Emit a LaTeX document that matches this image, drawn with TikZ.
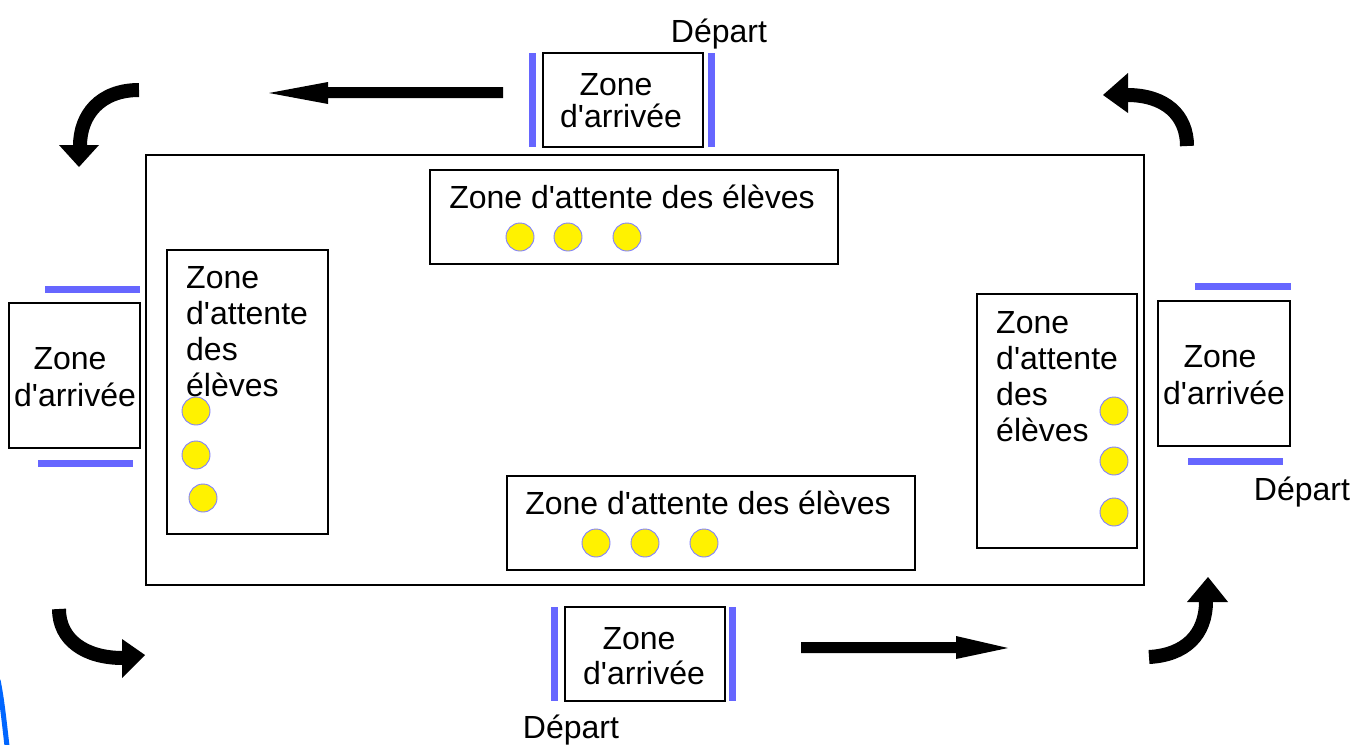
\documentclass[tikz,border=0pt]{standalone}
\usepackage{fontspec}
\setmainfont{Liberation Sans}[Ligatures=TeXOff]
\definecolor{barblue}{RGB}{102,102,255}
\definecolor{ringblue}{RGB}{128,128,255}
\definecolor{edgeblue}{RGB}{0,102,255}
\begin{document}
\begin{tikzpicture}[x=1pt,y=-1pt,
  box/.style={draw=black,line width=1.1pt},
  bar/.style={draw=barblue,line width=7pt},
  pupil/.style={circle,draw=ringblue,fill=yellow,line width=0.9pt,minimum size=28pt,inner sep=0pt},
  lbl/.style={inner sep=0pt,font=\fontsize{32}{36}\selectfont},
  curvearrow/.style={line width=14pt,black},
  tipfill/.style={fill=black}]
\useasboundingbox (0,0) rectangle (1354,744);
\fill[white] (0,0) rectangle (1354,744);
% outer field
\draw[box] (146,155) rectangle (1144,585);
% arrival boxes
\draw[box] (543,53) rectangle (703,147);
\draw[box] (9,303) rectangle (140,448);
\draw[box] (1158,301) rectangle (1290,446);
\draw[box] (565,607) rectangle (725,701);
% bars
\draw[bar] (532,53) -- (532,147);
\draw[bar] (711,53) -- (711,147);
\draw[bar] (45,289) -- (140,289);
\draw[bar] (38,463) -- (133,463);
\draw[bar] (1195,286) -- (1291,286);
\draw[bar] (1188,461) -- (1283,461);
\draw[bar] (554,607) -- (554,701);
\draw[bar] (732,607) -- (732,701);
% waiting zones
\draw[box] (430,170) rectangle (838,264);
\draw[box] (507,476) rectangle (915,570);
\draw[box] (167,250) rectangle (328,534);
\draw[box] (977,294) rectangle (1137,548);
% pupils
\node[pupil] (t1) at (520,237) {};
\node[pupil] (t2) at (568,237) {};
\node[pupil] (t3) at (627,237) {};
\node[pupil] (b1) at (596,543) {};
\node[pupil] (b2) at (645,543) {};
\node[pupil] (b3) at (704,543) {};
\node[pupil] (l1) at (196,411) {};
\node[pupil] (l2) at (196,455) {};
\node[pupil] (l3) at (203,498) {};
\node[pupil] (r1) at (1114,411) {};
\node[pupil] (r2) at (1114,461) {};
\node[pupil] (r3) at (1114,512) {};
% texts
\node[lbl,anchor=base] (dep1) at (719,42) {Départ};
\node[lbl,anchor=base] (dep2) at (1302,500) {Départ};
\node[lbl,anchor=base] (dep3) at (571,738) {Départ};
\node[lbl,anchor=base] (za1) at (616,95) {Zone};
\node[lbl,anchor=base] (da1) at (621,127) {d'arrivée};
\node[lbl,anchor=base] (za2) at (70,369) {Zone};
\node[lbl,anchor=base] (da2) at (75,406) {d'arrivée};
\node[lbl,anchor=base] (za3) at (1220,367) {Zone};
\node[lbl,anchor=base] (da3) at (1224,404) {d'arrivée};
\node[lbl,anchor=base] (za4) at (639,649) {Zone};
\node[lbl,anchor=base] (da4) at (644,684) {d'arrivée};
\node[lbl,anchor=base] (wt) at (632,208) {Zone d'attente des élèves};
\node[lbl,anchor=base] (wb) at (708,514) {Zone d'attente des élèves};
\node[lbl,anchor=base west] (wl1) at (186,288) {Zone};
\node[lbl,anchor=base west] (wl2) at (186,324) {d'attente};
\node[lbl,anchor=base west] (wl3) at (186,360) {des};
\node[lbl,anchor=base west] (wl4) at (186,396) {élèves};
\node[lbl,anchor=base west] (wr1) at (996,333) {Zone};
\node[lbl,anchor=base west] (wr2) at (996,369) {d'attente};
\node[lbl,anchor=base west] (wr3) at (996,405) {des};
\node[lbl,anchor=base west] (wr4) at (996,441) {élèves};
% straight arrows
\fill[tipfill] (503,87) -- (328,87) -- (328,82) -- (269,93) -- (328,104) -- (328,98) -- (503,98) -- cycle;
\fill[tipfill] (801,642) -- (956,642) -- (956,636) -- (1008,648) -- (956,659) -- (956,653) -- (801,653) -- cycle;
% curved arrows
\draw[curvearrow] (139,90) .. controls (100,90) and (80,115) .. (80,146);
\fill[tipfill] (59,145) -- (99,145) -- (79,167) -- cycle;
\draw[curvearrow] (1187,146) .. controls (1187,115) and (1165,95) .. (1127,95);
\fill[tipfill] (1128,73) -- (1128,113) -- (1103,95) -- cycle;
\draw[curvearrow] (59,609) .. controls (59,640) and (85,658) .. (123,658);
\fill[tipfill] (122,639) -- (122,678) -- (145,655) -- cycle;
\draw[curvearrow] (1149,657) .. controls (1185,655) and (1206,635) .. (1206,601);
\fill[tipfill] (1187,602) -- (1228,602) -- (1208,577) -- cycle;
% edge mark
\draw[edgeblue,line width=5pt] (-2,680) .. controls (2,700) and (4,720) .. (7,746);
\end{tikzpicture}
\end{document}
